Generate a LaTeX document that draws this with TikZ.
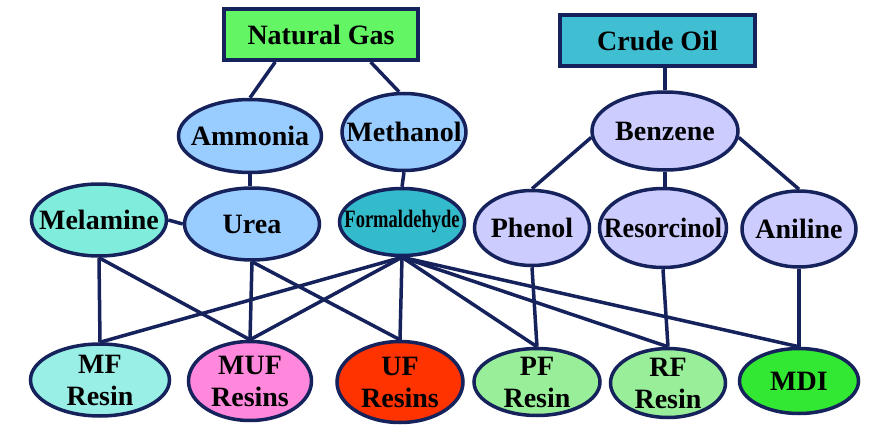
\documentclass[tikz,border=0pt]{standalone}
\usepackage{fontspec}
\setmainfont{Liberation Serif}
\usepackage{graphicx}
\usetikzlibrary{shapes.geometric}

\definecolor{link}{RGB}{22,34,92}
\definecolor{gasgreen}{RGB}{100,245,100}
\definecolor{oilteal}{RGB}{64,190,210}
\definecolor{natblue}{RGB}{153,204,255}
\definecolor{melaqua}{RGB}{128,236,220}
\definecolor{formteal}{RGB}{51,187,204}
\definecolor{benzlav}{RGB}{204,204,255}
\definecolor{mfcyan}{RGB}{153,238,230}
\definecolor{mufpink}{RGB}{255,136,221}
\definecolor{ufred}{RGB}{255,51,0}
\definecolor{pfgreen}{RGB}{153,238,153}
\definecolor{mdigreen}{RGB}{51,232,51}

\begin{document}
\begin{tikzpicture}[x=1pt,y=-1pt,
    txt/.style={font=\bfseries\fontsize{28}{32}\selectfont,align=center,inner sep=0pt},
    feed/.style={rectangle,draw=link,line width=4pt,txt,fill=#1},
    chem/.style n args={3}{ellipse,draw=link,line width=3.5pt,inner sep=0pt,
        fill=#1,minimum width=#2,minimum height=#3},
    link/.style={draw=link,line width=3.5pt}]
    \useasboundingbox (0,0) rectangle (871,428);

    \node[feed=gasgreen,minimum width=194,minimum height=51] (ng) at (321,34.5) {Natural Gas};
    \node[feed=oilteal,minimum width=195,minimum height=51] (co) at (657.5,40.5) {Crude Oil};

    \node[chem={natblue}{143}{73},label={[txt]center:Ammonia}] (amm) at (250,136) {};
    \node[chem={natblue}{124}{77},label={[txt]center:Methanol}] (meth) at (404,132) {};
    \node[chem={benzlav}{146}{78},label={[txt]center:Benzene}] (benz) at (665,131) {};

    \node[chem={melaqua}{135}{72},label={[txt]center:Melamine}] (mel) at (99,220) {};
    \node[chem={natblue}{135}{72},label={[txt]center:Urea}] (urea) at (252,224) {};
    \node[chem={formteal}{125}{67},label={[txt,font=\bfseries\fontsize{25}{28}\selectfont]center:\scalebox{0.74}[1]{Formaldehyde}}] (form) at (402,222) {};
    \node[chem={benzlav}{115}{75},label={[txt]center:Phenol}] (phen) at (532,228) {};
    \node[chem={benzlav}{127}{79},label={[txt]center:\scalebox{0.93}[1]{Resorcinol}}] (reso) at (663,228) {};
    \node[chem={benzlav}{114}{76},label={[txt]center:Aniline}] (anil) at (799,229) {};

    \node[chem={mfcyan}{139}{72},label={[txt]center:{MF\\Resin}}] (mf) at (100,380) {};
    \node[chem={mufpink}{123}{79},label={[txt]center:{MUF\\Resins}}] (muf) at (250,381) {};
    \node[chem={ufred}{126}{81},label={[txt]center:{UF\\Resins}}] (uf) at (400,382) {};
    \node[chem={pfgreen}{126}{67},label={[txt]center:{PF\\Resin}}] (pf) at (537,382) {};
    \node[chem={pfgreen}{115}{69},label={[txt]center:{RF\\Resin}}] (rf) at (668,383) {};
    \node[chem={mdigreen}{119}{65},label={[txt]center:MDI}] (mdi) at (799,381) {};

    \draw[link] (ng.211) -- (amm.north);
    \draw[link] (ng.331) -- (meth.97);
    \draw[link] (benz.north |- co.south) -- (benz.north);
    \draw[link] (benz.185) -- (phen.north);
    \draw[link] (benz.south) -- (benz.south |- reso.north);
    \draw[link] (benz.355) -- (anil.north);
    \draw[link] (amm.south) -- (amm.south |- urea.north);
    \draw[link] (meth.south) -- (form.north);
    \draw[link] (mel.east) -- (urea.west);

    \draw[link] (mel.south) -- (mf.north);
    \draw[link] (mel.south) -- (muf.north);
    \draw[link] (urea.south) -- (muf.north);
    \draw[link] (urea.south) -- (uf.north);
    \foreach \resin in {mf,muf,uf,pf,rf,mdi}
        \draw[link] (form.south) -- (\resin.north);
    \draw[link] (phen.south) -- (pf.north);
    \draw[link] (reso.south) -- (rf.north);
    \draw[link] (anil.south) -- (mdi.north);
\end{tikzpicture}
\end{document}
